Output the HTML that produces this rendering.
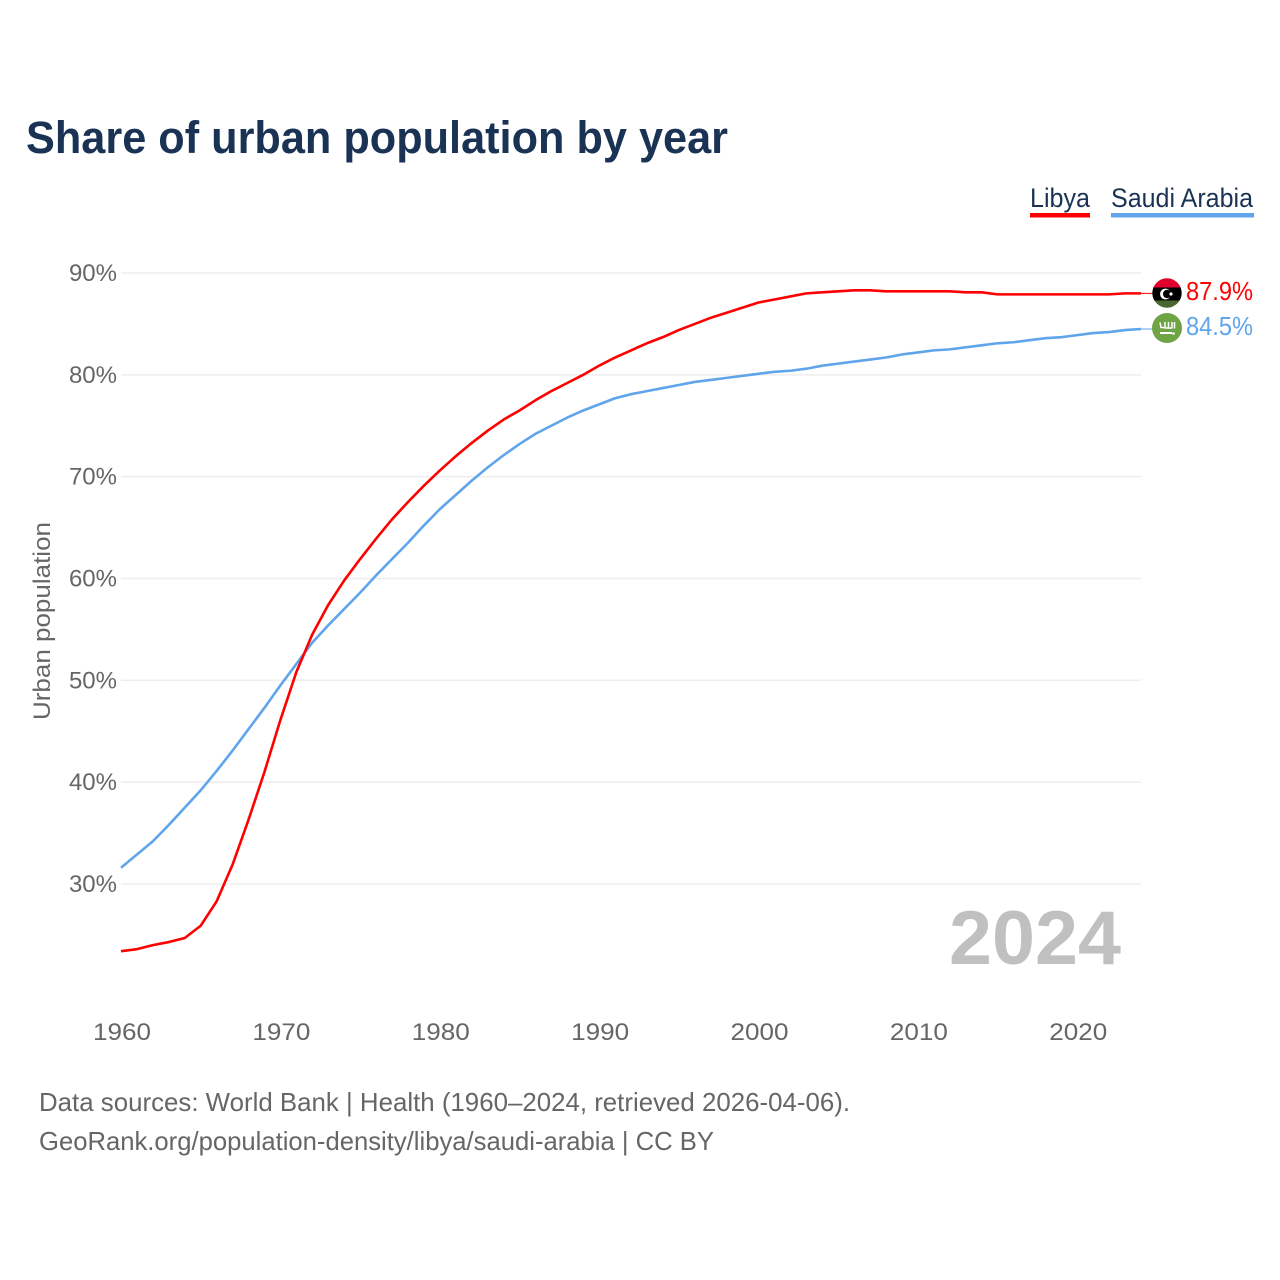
<!DOCTYPE html>
<html lang="en">
<head>
<meta charset="utf-8">
<title>Share of urban population by year</title>
<style>
html,body{margin:0;padding:0;background:#fff;width:1280px;height:1280px;overflow:hidden}
svg{display:block}
text{font-family:"Liberation Sans",sans-serif}
</style>
</head>
<body>
<svg id="chart" xmlns="http://www.w3.org/2000/svg" width="1280" height="1280" viewBox="0 0 1280 1280">
  <defs>
    <clipPath id="flag-clip"><circle cx="1167" cy="293" r="14.7"/></clipPath>
  </defs>
  <rect x="0" y="0" width="1280" height="1280" fill="#fff"/>
  <text x="26" y="153" font-size="45" font-weight="700" fill="#1a3354" textLength="702" lengthAdjust="spacingAndGlyphs">Share of urban population by year</text>

  <g>
    <g>
      <text x="1030" y="207" font-size="27" fill="#1a3354" textLength="60" lengthAdjust="spacingAndGlyphs">Libya</text>
      <rect x="1030" y="213" width="60" height="4.5" fill="#ff0000"/>
    </g>
    <g>
      <text x="1111" y="207" font-size="27" fill="#1a3354" textLength="142" lengthAdjust="spacingAndGlyphs">Saudi Arabia</text>
      <rect x="1111" y="213" width="143" height="4.5" fill="#60a5eb"/>
    </g>
  </g>

  <g id="grid"></g>
  <g id="yticks"></g>
  <g id="xticks"></g>
  <text transform="translate(50,621) rotate(-90)" text-anchor="middle" font-size="24" fill="#666" textLength="198" lengthAdjust="spacingAndGlyphs">Urban population</text>

  <text x="949" y="964" font-size="76" font-weight="700" fill="#c0c0c0" textLength="172" lengthAdjust="spacingAndGlyphs">2024</text>

  <g id="series"></g>

  <g>
    <g clip-path="url(#flag-clip)">
      <rect x="1150" y="278" width="34" height="10" fill="#e0002d"/>
      <rect x="1150" y="287.5" width="34" height="13" fill="#000"/>
      <rect x="1150" y="300.5" width="34" height="8" fill="#47682f"/>
      <circle cx="1165.5" cy="294" r="5.4" fill="#fff"/>
      <circle cx="1167.2" cy="294" r="4.2" fill="#000"/>
      <circle cx="1171" cy="294" r="1.6" fill="#fff"/>
    </g>
  </g>
  <g>
    <circle cx="1167" cy="328" r="15" fill="#6fa344"/>
    <path d="M1160 322.5l1 5h3M1165 322v6h3M1168.5 322v6h3.5M1172 322v6.5M1174.5 322v6.5" stroke="#fff" stroke-width="1.5" fill="none"/>
    <path d="M1160 333h12" stroke="#fff" stroke-width="2" fill="none"/>
    <circle cx="1173.5" cy="333.5" r="1.3" fill="#fff"/>
  </g>
  <text id="label-libya" x="1186" y="300" font-size="26" fill="#ff0000" textLength="67" lengthAdjust="spacingAndGlyphs"></text>
  <text id="label-saudi" x="1186" y="335" font-size="26" fill="#60a5eb" textLength="67" lengthAdjust="spacingAndGlyphs"></text>

  <text x="39" y="1111" font-size="26" fill="#666" textLength="811" lengthAdjust="spacingAndGlyphs">Data sources: World Bank | Health (1960–2024, retrieved 2026-04-06).</text>
  <text x="39" y="1150" font-size="26" fill="#666" textLength="675" lengthAdjust="spacingAndGlyphs">GeoRank.org/population-density/libya/saudi-arabia | CC BY</text>
</svg>
<script>
const startYear = 1960;
const endYear = 2024;
const libyaValues = [23.4,23.6,24.0,24.3,24.7,25.9,28.3,31.9,36.3,41.0,46.1,50.8,54.5,57.4,59.8,61.9,63.9,65.8,67.5,69.1,70.6,72.0,73.3,74.5,75.6,76.5,77.5,78.4,79.2,80.0,80.9,81.7,82.4,83.1,83.7,84.4,85.0,85.6,86.1,86.6,87.1,87.4,87.7,88.0,88.1,88.2,88.3,88.3,88.2,88.2,88.2,88.2,88.2,88.1,88.1,87.9,87.9,87.9,87.9,87.9,87.9,87.9,87.9,88.0,88.0];
const saudiValues = [31.6,32.9,34.2,35.8,37.5,39.2,41.1,43.1,45.2,47.3,49.5,51.6,53.7,55.4,57.0,58.6,60.3,61.9,63.5,65.2,66.8,68.2,69.6,70.9,72.1,73.2,74.2,75.0,75.8,76.5,77.1,77.7,78.1,78.4,78.7,79.0,79.3,79.5,79.7,79.9,80.1,80.3,80.4,80.6,80.9,81.1,81.3,81.5,81.7,82.0,82.2,82.4,82.5,82.7,82.9,83.1,83.2,83.4,83.6,83.7,83.9,84.1,84.2,84.4,84.5];
const yTickValues = [30,40,50,60,70,80,90];
const xTickValues = [1960,1970,1980,1990,2000,2010,2020];
const libyaLabel = "87.9%";
const saudiLabel = "84.5%";

const NS = "http://www.w3.org/2000/svg";
function xScale(year){ return 121 + (year - 1960) * (1020 / 64); }
function yScale(value){ return 273 + (90 - value) * (611 / 60); }

const gridGroup = document.getElementById("grid");
const yTickGroup = document.getElementById("yticks");
const xTickGroup = document.getElementById("xticks");
const seriesGroup = document.getElementById("series");

yTickValues.forEach(function(v){
  const line = document.createElementNS(NS, "line");
  
  
  line.setAttribute("x1", 121);
  line.setAttribute("x2", 1141);
  line.setAttribute("y1", yScale(v));
  line.setAttribute("y2", yScale(v));
  line.setAttribute("stroke", "#eeeeee");
  line.setAttribute("stroke-width", "1.5");
  gridGroup.appendChild(line);

  const label = document.createElementNS(NS, "text");
  
  
  label.setAttribute("x", 117);
  label.setAttribute("y", yScale(v) + 8);
  label.setAttribute("text-anchor", "end");
  label.setAttribute("font-size", "24");
  label.setAttribute("fill", "#666");
  label.textContent = v + "%";
  yTickGroup.appendChild(label);
});

xTickValues.forEach(function(y){
  const label = document.createElementNS(NS, "text");
  
  
  label.setAttribute("x", xScale(y) + 1);
  label.setAttribute("y", 1040);
  label.setAttribute("text-anchor", "middle");
  label.setAttribute("font-size", "24");
  label.setAttribute("fill", "#666");
  label.setAttribute("textLength", "58");
  label.setAttribute("lengthAdjust", "spacingAndGlyphs");
  label.textContent = y;
  xTickGroup.appendChild(label);
});

function linePath(values){
  return values.map(function(v, i){
    return (i ? "L" : "M") + xScale(startYear + i).toFixed(2) + " " + yScale(v).toFixed(2);
  }).join(" ");
}

const saudiLine = document.createElementNS(NS, "path");


saudiLine.setAttribute("d", linePath(saudiValues));
saudiLine.setAttribute("fill", "none");
saudiLine.setAttribute("stroke", "#60a5eb");
saudiLine.setAttribute("stroke-width", "2.6");
saudiLine.setAttribute("stroke-linejoin", "round");
seriesGroup.appendChild(saudiLine);

const libyaLine = document.createElementNS(NS, "path");


libyaLine.setAttribute("d", linePath(libyaValues));
libyaLine.setAttribute("fill", "none");
libyaLine.setAttribute("stroke", "#ff0000");
libyaLine.setAttribute("stroke-width", "2.6");
libyaLine.setAttribute("stroke-linejoin", "round");
seriesGroup.appendChild(libyaLine);

const libyaLeader = document.createElementNS(NS, "line");


libyaLeader.setAttribute("x1", xScale(endYear));
libyaLeader.setAttribute("x2", 1153);
libyaLeader.setAttribute("y1", yScale(libyaValues[libyaValues.length - 1]));
libyaLeader.setAttribute("y2", yScale(libyaValues[libyaValues.length - 1]));
libyaLeader.setAttribute("stroke", "#ff0000");
libyaLeader.setAttribute("stroke-width", "1");
seriesGroup.appendChild(libyaLeader);

const saudiLeader = document.createElementNS(NS, "line");


saudiLeader.setAttribute("x1", xScale(endYear));
saudiLeader.setAttribute("x2", 1153);
saudiLeader.setAttribute("y1", yScale(saudiValues[saudiValues.length - 1]));
saudiLeader.setAttribute("y2", yScale(saudiValues[saudiValues.length - 1]));
saudiLeader.setAttribute("stroke", "#60a5eb");
saudiLeader.setAttribute("stroke-width", "1");
seriesGroup.appendChild(saudiLeader);

document.getElementById("label-libya").textContent = libyaLabel;
document.getElementById("label-saudi").textContent = saudiLabel;
</script>
</body>
</html>
